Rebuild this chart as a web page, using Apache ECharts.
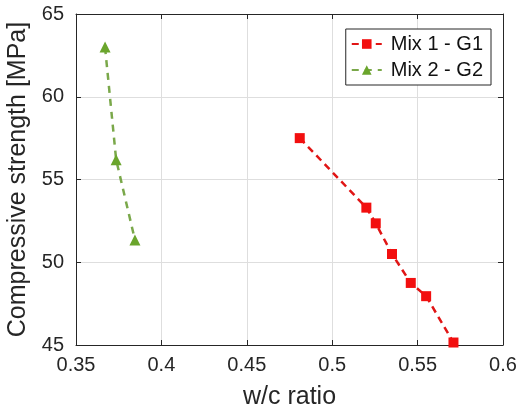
<!DOCTYPE html>
<html>
<head>
<meta charset="utf-8">
<script src="https://cdn.jsdelivr.net/npm/echarts@6/dist/echarts.min.js"></script>
<style>
    html, body { margin: 0; padding: 0; background: #fff; }
    #chart { width: 529px; height: 414px; }
</style>
</head>
<body>
<div id="chart"></div>
<script>
// data
var mix1Ratio = [0.481, 0.520, 0.5255, 0.535, 0.546, 0.555, 0.571];
var mix1Strength = [57.5, 53.3, 52.35, 50.5, 48.75, 47.95, 45.15];
var mix2Ratio = [0.367, 0.3735, 0.3845];
var mix2Strength = [63.0, 56.2, 51.35];
var seriesNames = ['Mix 1 - G1', 'Mix 2 - G2'];

function pairs(xs, ys) {
    return xs.map(function (x, i) { return [x, ys[i]]; });
}

var chartDom = document.getElementById('chart');
var myChart = echarts.init(chartDom);
var option;

var axisColor = '#262626';
var font = 'Liberation Sans, Arial, sans-serif';

option = {
    animation: false,
    textStyle: { fontFamily: font },
    grid: { left: 76, right: 26, top: 14, bottom: 69, outerBoundsMode: 'none' },
    legend: {
        data: seriesNames,
        orient: 'vertical',
        right: 38,
        top: 29,
        padding: [5, 8, 5, 5],
        itemGap: 6,
        itemWidth: 30,
        itemHeight: 12,
        backgroundColor: '#fff',
        borderColor: '#262626',
        borderWidth: 1,
        textStyle: { fontSize: 20, color: '#111', fontFamily: font, padding: [0, 0, 0, 4] }
    },
    xAxis: [
        {
            type: 'value',
            min: 0.35,
            max: 0.6,
            interval: 0.05,
            name: 'w/c ratio',
            nameLocation: 'middle',
            nameGap: 40,
            nameTextStyle: { fontSize: 25, color: '#262626' },
            axisLine: { lineStyle: { color: axisColor, width: 1 } },
            axisTick: { inside: true, length: 5, lineStyle: { color: axisColor } },
            axisLabel: {
                fontSize: 20,
                color: '#262626',
                margin: 10,
                formatter: function (v) { return String(+v.toFixed(2)); }
            },
            splitLine: { show: true, lineStyle: { color: '#dedede', width: 1 } }
        },
        {
            type: 'value',
            position: 'top',
            min: 0.35,
            max: 0.6,
            interval: 0.05,
            axisLine: { show: true, lineStyle: { color: axisColor } },
            axisTick: { inside: true, length: 5, lineStyle: { color: axisColor } },
            axisLabel: { show: false },
            splitLine: { show: false }
        }
    ],
    yAxis: [
        {
            type: 'value',
            min: 45,
            max: 65,
            interval: 5,
            name: 'Compressive strength [MPa]',
            nameLocation: 'middle',
            nameGap: 39,
            nameTextStyle: { fontSize: 25, color: '#262626' },
            axisLine: { show: true, lineStyle: { color: axisColor, width: 1 } },
            axisTick: { show: true, inside: true, length: 5, lineStyle: { color: axisColor } },
            axisLabel: { fontSize: 20, color: '#262626', margin: 12 },
            splitLine: { show: true, lineStyle: { color: '#dedede', width: 1 } }
        },
        {
            type: 'value',
            position: 'right',
            min: 45,
            max: 65,
            interval: 5,
            axisLine: { show: true, lineStyle: { color: axisColor } },
            axisTick: { show: true, inside: true, length: 5, lineStyle: { color: axisColor } },
            axisLabel: { show: false },
            splitLine: { show: false }
        }
    ],
    series: [
        {
            name: seriesNames[0],
            type: 'line',
            data: pairs(mix1Ratio, mix1Strength),
            symbol: 'rect',
            symbolSize: 10,
            itemStyle: { color: '#f20f0f' },
            lineStyle: { color: '#e01515', width: 2.5, type: [7, 5] }
        },
        {
            name: seriesNames[1],
            type: 'line',
            data: pairs(mix2Ratio, mix2Strength),
            symbol: 'triangle',
            symbolSize: 11,
            itemStyle: { color: '#6aa52c' },
            lineStyle: { color: '#7aa84a', width: 2.5, type: [7, 6] }
        }
    ]
};

option && myChart.setOption(option);
</script>
</body>
</html>
